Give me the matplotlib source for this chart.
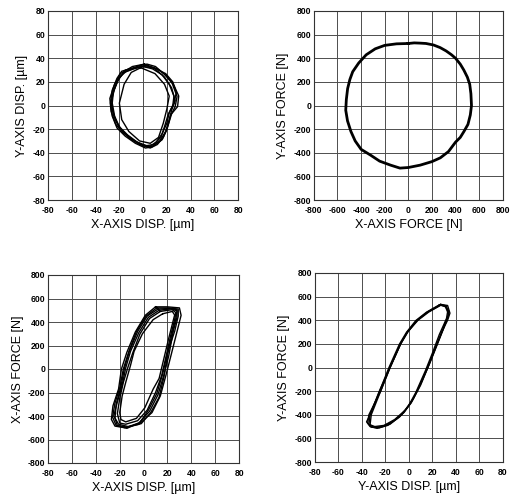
import numpy as np
import matplotlib.pyplot as plt

plt.rcParams['font.family'] = ['Liberation Sans', 'DejaVu Sans']
plt.rcParams['axes.unicode_minus'] = False

# orbit of shaft displacement: X disp [um], Y disp [um], one list per revolution
disp_loops_x = [
    [-1, -9, -18, -22, -26, -27.5, -26, -22, -15, -6.5, 2, 7.6, 16, 20, 23, 27, 28.6, 24.4, 17.4, 10.4, 3.4, -1],
    [0, -8, -16, -21, -25, -26, -24, -20, -13, -5, 3, 9, 15, 18, 21, 25, 26, 22, 16, 8, 0],
    [2, -6, -14, -20, -24, -27, -25, -21, -15, -7, 1, 7, 14, 19, 22, 24, 27, 24, 18, 10, 2],
    [-2, -10, -16, -20, -18, -12, -3, 6, 13, 17, 20, 22, 18, 10, -2],
    [1, -9, -19, -24, -28, -27, -23, -17, -9, 0, 6, 12, 17, 21, 24, 29, 30, 26, 20, 12, 1],
    [0, -7, -15, -22, -26, -26, -23, -18, -11, -3, 5, 11, 16, 20, 22, 26, 28, 25, 19, 9, 0],
]
disp_loops_y = [
    [34.5, 31.6, 29, 23, 13, 2, -9, -19, -26, -32, -36, -35, -29, -20.6, -9, -1, 7.6, 19, 27, 33, 35, 34.5],
    [33, 31, 28, 22, 12, 2, -9, -18, -25, -31, -34, -33, -27, -18, -8, 0, 8, 18, 26, 31, 33],
    [34, 32, 29, 24, 14, 3, -8, -17, -24, -30, -34, -35, -30, -22, -12, -4, 4, 15, 24, 31, 34],
    [32, 28, 18, 2, -12, -22, -30, -32, -27, -15, -3, 8, 18, 27, 32],
    [35, 33, 27, 18, 6, -5, -16, -23, -29, -34, -36, -33, -27, -17, -7, -1, 8, 17, 25, 31, 35],
    [33, 32, 30, 20, 9, -3, -13, -21, -28, -33, -35, -31, -24, -15, -6, 2, 11, 20, 27, 32, 33],
]

# bearing force orbit: X force [N], Y force [N]
force_x = [0, 50, 100, 150, 214, 270, 320, 365, 400, 440, 470, 500, 520, 530, 535, 525, 505, 471,
           440, 400, 340, 271, 200, 100, 0, -71, -150, -243, -320, -400, -450, -486, -515, -530,
           -525, -514, -495, -471, -420, -357, -280, -200, -100, 0]
force_y = [525, 530, 528, 525, 512, 490, 462, 430, 400, 350, 300, 240, 180, 100, 0, -80, -160, -220,
           -270, -310, -390, -443, -475, -505, -525, -530, -505, -471, -420, -371, -300, -220, -130,
           -40, 50, 143, 220, 286, 360, 429, 480, 509, 522, 525]

# X disp [um] vs X force [N]
xdf_loops_d = [
    [10, 20, 30, 31.4, 28.6, 22.9, 18.6, 14, 7, -4, -15.7, -24, -27, -25.7, -21, -18.6, -14, -7, 1.4, 10],
    [12, 22, 28, 28, 25, 21, 17, 12, 5, -4, -14, -22, -24, -23, -19, -16, -12, -5, 3, 12],
    [14, 24, 27, 26, 23, 19, 15, 10, 3, -5, -15, -20, -22, -20, -17, -13, -9, -3, 5, 14],
    [16, 24, 26, 24, 21, 17, 13, 8, 1, -6, -15, -19, -20, -18, -15, -11, -8, -1, 8, 16],
    [11, 21, 29, 29, 26, 20, 16, 11, 4, -3, -14, -23, -26, -24, -20, -17, -12, -6, 2, 11],
    [13, 23, 28, 27, 24, 20, 17, 13, 6, -2, -13, -21, -25, -22, -18, -15, -11, -4, 4, 13],
]
xdf_loops_f = [
    [529, 529, 520, 457, 343, 114, -57, -229, -371, -471, -500, -486, -429, -314, -171, 0, 143, 314, 457, 529],
    [510, 515, 505, 440, 330, 110, -50, -220, -360, -460, -495, -480, -420, -300, -150, 10, 150, 320, 450, 510],
    [490, 505, 480, 420, 300, 114, -60, -200, -350, -440, -470, -460, -380, -250, -114, 20, 140, 300, 430, 490],
    [470, 490, 460, 380, 260, 90, -80, -171, -330, -420, -450, -430, -371, -230, -114, 30, 150, 300, 420, 470],
    [520, 520, 510, 450, 320, 140, -40, -210, -350, -455, -505, -480, -410, -290, -160, 0, 160, 320, 450, 520],
    [500, 512, 495, 430, 310, 120, -70, -240, -370, -465, -490, -470, -400, -280, -140, 10, 150, 310, 440, 500],
]

# Y disp [um] vs Y force [N]
ydf_loops_d = [
    [27, 16, 7, -1.4, -7, -16, -24, -34, -35, -32, -25, -16, -6, 2, 8, 16, 22, 28, 33, 35, 33, 27],
    [26, 15, 6, -2, -8, -17, -25, -33, -34, -30, -23, -14, -4, 3, 10, 17, 23, 29, 32, 33, 31, 26],
    [28, 17, 8, -1, -7, -16, -25, -33, -36, -33, -27, -18, -8, 0, 6, 14, 20, 26, 31, 34, 32, 28],
    [27, 16, 7, -1, -7, -16, -24, -32, -33, -29, -21, -12, -3, 4, 11, 18, 24, 30, 33, 34, 31, 27],
]
ydf_loops_f = [
    [534, 471, 400, 300, 200, 0, -200, -400, -470, -505, -510, -480, -400, -300, -180, 0, 150, 300, 400, 460, 525, 534],
    [530, 468, 398, 298, 198, -2, -202, -402, -480, -505, -500, -460, -380, -280, -150, 20, 170, 320, 410, 470, 520, 530],
    [532, 470, 402, 302, 202, 2, -198, -398, -460, -500, -515, -490, -420, -320, -210, -30, 120, 280, 390, 450, 520, 532],
    [528, 468, 398, 298, 198, -2, -200, -400, -485, -500, -490, -440, -360, -260, -120, 40, 190, 340, 420, 480, 515, 528],
]


def style_axes(ax, xlim, xstep, ylim, ystep, xlabel, ylabel):
    ax.set_xlim(-xlim, xlim)
    ax.set_ylim(-ylim, ylim)
    ax.set_xticks(np.arange(-xlim, xlim + 1, xstep))
    ax.set_yticks(np.arange(-ylim, ylim + 1, ystep))
    ax.grid(True, color='0.3', lw=0.7)
    ax.set_axisbelow(True)
    ax.tick_params(length=0, labelsize=6.2)
    ax.tick_params(axis='x', pad=4)
    ax.tick_params(axis='y', pad=2)
    for lab in ax.get_xticklabels() + ax.get_yticklabels():
        lab.set_fontweight('bold')
    for sp in ax.spines.values():
        sp.set_linewidth(0.8)
        sp.set_color('0.2')
    ax.set_xlabel(xlabel, fontsize=9, labelpad=3)
    ax.set_ylabel(ylabel, fontsize=9, labelpad=3)


fig = plt.figure(figsize=(5.12, 5.0), dpi=100)
ax1 = fig.add_axes([0.094, 0.600, 0.371, 0.378])
ax2 = fig.add_axes([0.613, 0.600, 0.369, 0.378])
ax3 = fig.add_axes([0.094, 0.074, 0.373, 0.376])
ax4 = fig.add_axes([0.615, 0.076, 0.367, 0.378])

for xs, ys in zip(disp_loops_x, disp_loops_y):
    ax1.plot(xs, ys, color='black', lw=1.0)
style_axes(ax1, 80, 20, 80, 20, 'X-AXIS DISP. [µm]', 'Y-AXIS DISP. [µm]')

ax2.plot(force_x, force_y, color='black', lw=2.0)
style_axes(ax2, 800, 200, 800, 200, 'X-AXIS FORCE [N]', 'Y-AXIS FORCE [N]')

for xs, ys in zip(xdf_loops_d, xdf_loops_f):
    ax3.plot(xs, ys, color='black', lw=1.0)
style_axes(ax3, 80, 20, 800, 200, 'X-AXIS DISP. [µm]', 'X-AXIS FORCE [N]')

for xs, ys in zip(ydf_loops_d, ydf_loops_f):
    ax4.plot(xs, ys, color='black', lw=1.0)
style_axes(ax4, 80, 20, 800, 200, 'Y-AXIS DISP. [µm]', 'Y-AXIS FORCE [N]')

fig.savefig('out.png', dpi=100)
